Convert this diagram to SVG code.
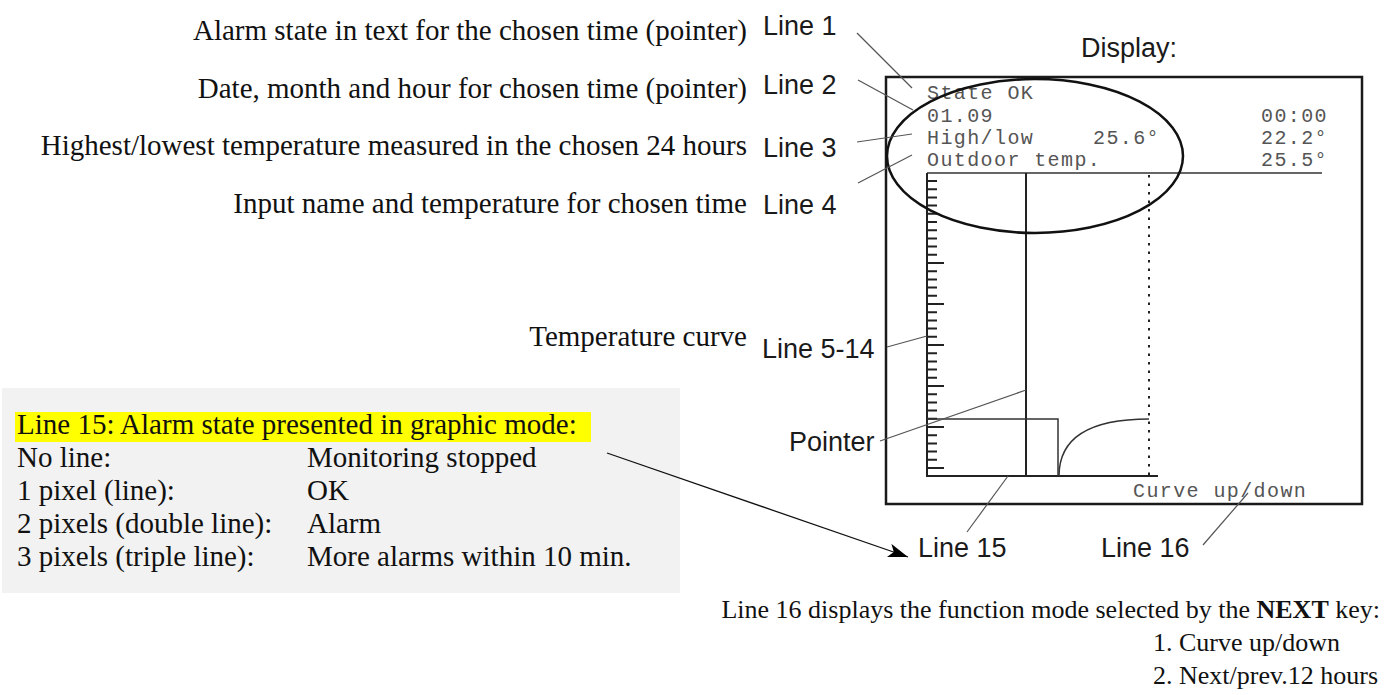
<svg xmlns="http://www.w3.org/2000/svg" width="1384" height="695" viewBox="0 0 1384 695">
  <style>
    .serif { font-family: "Liberation Serif", "Times New Roman", serif; font-size: 29px; fill: #111; }
    .note { font-family: "Liberation Serif", "Times New Roman", serif; font-size: 26px; fill: #111; }
    .sans { font-family: "Liberation Sans", Arial, sans-serif; font-size: 27px; fill: #1a1a1a; }
    .mono { font-family: "Liberation Mono", "Courier New", monospace; font-size: 20px; letter-spacing: 1.4px; fill: #555; }
    .leader { stroke: #555; stroke-width: 1.2; fill: none; }
    .frame { stroke: #1a1a1a; stroke-width: 2.5; fill: none; }
    .axis { stroke: #222; stroke-width: 2; fill: none; }
    .thin { stroke: #333; stroke-width: 1.5; fill: none; }
  </style>
  <defs>
    <marker id="arrowhead" markerWidth="22" markerHeight="14" refX="20" refY="7" orient="auto" markerUnits="userSpaceOnUse">
      <path d="M0,0 L20,7 L0,14 L5,7 Z" fill="#000"/>
    </marker>
  </defs>

  <rect width="1384" height="695" fill="#fff"/>

  <!-- explanatory texts on the left -->
  <g id="label-line1">
    <text class="serif" x="747" y="40" text-anchor="end">Alarm state in text for the chosen time (pointer)</text>
    <text class="sans" x="763" y="35">Line 1</text>
  </g>
  <g id="label-line2">
    <text class="serif" x="747" y="98" text-anchor="end">Date, month and hour for chosen time (pointer)</text>
    <text class="sans" x="763" y="94">Line 2</text>
  </g>
  <g id="label-line3">
    <text class="serif" x="747" y="155" text-anchor="end">Highest/lowest temperature measured in the chosen 24 hours</text>
    <text class="sans" x="763" y="157">Line 3</text>
  </g>
  <g id="label-line4">
    <text class="serif" x="747" y="213" text-anchor="end">Input name and temperature for chosen time</text>
    <text class="sans" x="763" y="214">Line 4</text>
  </g>
  <g id="label-line5-14">
    <text class="serif" x="747" y="346" text-anchor="end">Temperature curve</text>
    <text class="sans" x="762" y="358">Line 5-14</text>
  </g>
  <g id="label-pointer">
    <text class="sans" x="789" y="451">Pointer</text>
  </g>
  <g id="label-line15">
    <text class="sans" x="918" y="557">Line 15</text>
  </g>
  <g id="label-line16">
    <text class="sans" x="1101" y="557">Line 16</text>
  </g>

  <!-- legend box for line 15 -->
  <g id="legend-line15">
    <rect x="2" y="388" width="678" height="205" fill="#f2f2f2"/>
    <rect x="15" y="412" width="576" height="30" fill="#ffff00"/>
    <text class="serif" x="17" y="434">Line 15: Alarm state presented in graphic mode:</text>
    <text class="serif" x="17" y="467">No line:</text>
    <text class="serif" x="307" y="467">Monitoring stopped</text>
    <text class="serif" x="17" y="500">1 pixel (line):</text>
    <text class="serif" x="307" y="500">OK</text>
    <text class="serif" x="17" y="533">2 pixels (double line):</text>
    <text class="serif" x="307" y="533">Alarm</text>
    <text class="serif" x="17" y="566">3 pixels (triple line):</text>
    <text class="serif" x="307" y="566">More alarms within 10 min.</text>
  </g>

  <!-- note on line 16 -->
  <g id="note-line16">
    <text class="note" x="1380" y="618" text-anchor="end">Line 16 displays the function mode selected by the <tspan font-weight="bold">NEXT</tspan> key:</text>
    <text class="note" x="1153" y="651">1. Curve up/down</text>
    <text class="note" x="1153" y="684">2. Next/prev.12 hours</text>
  </g>

  <!-- the display -->
  <g id="display">
    <text class="sans" x="1081" y="57" font-size="22">Display:</text>
    <rect class="frame" x="886" y="77" width="476" height="427"/>
    <text class="mono" x="927" y="99">State OK</text>
    <text class="mono" x="927" y="122">01.09</text>
    <text class="mono" x="1261" y="122">00:00</text>
    <text class="mono" x="927" y="144">High/low</text>
    <text class="mono" x="1093" y="144">25.6°</text>
    <text class="mono" x="1261" y="144">22.2°</text>
    <text class="mono" x="927" y="166">Outdoor temp.</text>
    <text class="mono" x="1261" y="166">25.5°</text>
    <line class="thin" x1="927" y1="173" x2="1322" y2="173"/>

    <!-- curve area -->
    <path class="axis" d="M927 173V476H1158"/>
    <path stroke="#222" stroke-width="2" fill="none" d="M927 468h17M927 459.8h10M927 451.6h10M927 443.4h10M927 435.2h10M927 427h17M927 418.8h10M927 410.6h10M927 402.4h10M927 394.2h10M927 386h17M927 377.8h10M927 369.6h10M927 361.4h10M927 353.2h10M927 345h17M927 336.8h10M927 328.6h10M927 320.4h10M927 312.2h10M927 304h17M927 295.8h10M927 287.6h10M927 279.4h10M927 271.2h10M927 263h17M927 254.8h10M927 246.6h10M927 238.4h10M927 230.2h10M927 222h10M927 213.8h10M927 205.6h10M927 197.4h10M927 189.2h10M927 181h10"/>
    <line class="axis" x1="1026" y1="173" x2="1026" y2="476"/>
    <line stroke="#222" stroke-width="2" stroke-dasharray="2.5 6" x1="1149" y1="175" x2="1149" y2="476"/>
    <path class="thin" d="M927 419H1058V476"/>
    <path class="thin" d="M1059 476C1059 440 1085 419 1149 419"/>
    <text class="mono" x="1133" y="497">Curve up/down</text>

    <ellipse cx="1035" cy="156" rx="148" ry="77" fill="none" stroke="#111" stroke-width="2.5"/>
  </g>

  <!-- leader lines and arrow -->
  <g id="connectors">
    <line class="leader" x1="857" y1="33" x2="912" y2="88"/>
    <line class="leader" x1="858" y1="80" x2="913" y2="110"/>
    <line class="leader" x1="857" y1="142" x2="912" y2="134"/>
    <line class="leader" x1="858" y1="183" x2="912" y2="155"/>
    <line class="leader" x1="887" y1="347" x2="927" y2="336"/>
    <line class="leader" x1="880" y1="441" x2="1026" y2="390"/>
    <line class="leader" x1="967" y1="532" x2="1008" y2="476"/>
    <line class="leader" x1="1203" y1="545" x2="1248" y2="493"/>
    <line x1="607" y1="453" x2="908" y2="557" stroke="#111" stroke-width="1.3" marker-end="url(#arrowhead)"/>
  </g>
</svg>
